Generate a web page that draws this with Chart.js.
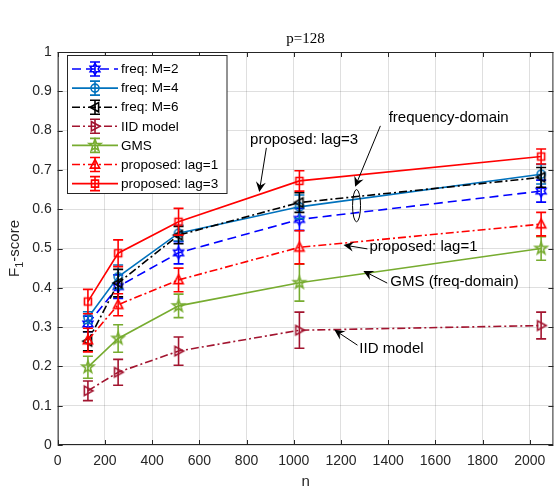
<!DOCTYPE html>
<html>
<head>
<meta charset="utf-8">
<script src="https://cdn.jsdelivr.net/npm/chart.js@4.4.1/dist/chart.umd.min.js"></script>
<style>
  html, body { margin: 0; padding: 0; background: #fff; }
  #wrap { width: 560px; height: 492px; position: relative; }
</style>
</head>
<body>
<div id="wrap"><canvas id="f1chart"></canvas></div>
<script>
// ─── Data ────────────────────────────────────────────────────────────────────

const nValues = [128, 256, 512, 1024, 2048];

const seriesNames = [
  'freq: M=2', 'freq: M=4', 'freq: M=6', 'IID model',
  'GMS', 'proposed: lag=1', 'proposed: lag=3',
];

const freqM2   = [0.308, 0.403, 0.489, 0.574, 0.646];
const freqM2Er = [0.020, 0.030, 0.028, 0.028, 0.028];
const freqM4   = [0.324, 0.428, 0.539, 0.606, 0.689];
const freqM4Er = [0.015, 0.030, 0.020, 0.030, 0.025];
const freqM6   = [0.264, 0.412, 0.534, 0.617, 0.681];
const freqM6Er = [0.024, 0.035, 0.022, 0.025, 0.025];
const iidModel = [0.138, 0.185, 0.239, 0.292, 0.304];
const iidEr    = [0.025, 0.033, 0.036, 0.046, 0.034];
const gms      = [0.198, 0.271, 0.354, 0.413, 0.500];
const gmsEr    = [0.028, 0.035, 0.030, 0.047, 0.030];
const lag1     = [0.267, 0.357, 0.420, 0.503, 0.562];
const lag1Er   = [0.030, 0.028, 0.030, 0.042, 0.030];
const lag3     = [0.365, 0.488, 0.568, 0.672, 0.734];
const lag3Er   = [0.031, 0.034, 0.034, 0.026, 0.019];

const xTickValues = [0, 200, 400, 600, 800, 1000, 1200, 1400, 1600, 1800, 2000];
const yTickValues = [0, 0.1, 0.2, 0.3, 0.4, 0.5, 0.6, 0.7, 0.8, 0.9, 1];
const yTickLabels = ['0', '0.1', '0.2', '0.3', '0.4', '0.5', '0.6', '0.7', '0.8', '0.9', '1'];

// text annotations, in data units
const notes = [
  { text: 'frequency-domain',  x: 1402, y: 0.832, from: [1367, 0.812], to: [1260, 0.657] },
  { text: 'proposed: lag=3',   x: 815,  y: 0.776, from: [884, 0.756],  to: [854, 0.644] },
  { text: 'proposed: lag=1',   x: 1321, y: 0.504, from: [1312, 0.499], to: [1211, 0.509] },
  { text: 'GMS (freq-domain)', x: 1409, y: 0.415, from: [1396, 0.412], to: [1295, 0.443] },
  { text: 'IID model',         x: 1278, y: 0.244, from: [1270, 0.254], to: [1172, 0.293] },
];

// ─── Styles ──────────────────────────────────────────────────────────────────

const DASH    = [9, 5];
const DASHDOT = [8, 3, 2, 3];
const LW = 1.6;

const styles = [
  { color: '#0000ff', dash: DASH,    marker: 'hexagram' },
  { color: '#0072bd', dash: [],      marker: 'circle' },
  { color: '#000000', dash: DASHDOT, marker: 'triLeft' },
  { color: '#a2142f', dash: DASHDOT, marker: 'triRight' },
  { color: '#77ac30', dash: [],      marker: 'pentagram' },
  { color: '#ff0000', dash: DASHDOT, marker: 'triUp' },
  { color: '#ff0000', dash: [],      marker: 'square' },
];

const seriesValues = [freqM2, freqM4, freqM6, iidModel, gms, lag1, lag3];
const seriesErrors = [freqM2Er, freqM4Er, freqM6Er, iidEr, gmsEr, lag1Er, lag3Er];

const AXIS_COLOR = '#262626';
const GRID_COLOR = 'rgba(38,38,38,0.15)';
const SANS = '"Liberation Sans", Arial, Helvetica, sans-serif';
const SERIF = '"Liberation Serif", "Times New Roman", serif';

// ─── Markers ─────────────────────────────────────────────────────────────────

function _starPath(ctx, x, y, points, rOut, rIn) {
  for (let k = 0; k < points * 2; k++) {
    const r = k % 2 === 0 ? rOut : rIn;
    const a = -Math.PI / 2 + k * Math.PI / points;
    const px = x + r * Math.cos(a), py = y + r * Math.sin(a);
    if (k === 0) ctx.moveTo(px, py); else ctx.lineTo(px, py);
  }
  ctx.closePath();
}

function drawMarker(ctx, shape, x, y, color) {
  ctx.save();
  ctx.setLineDash([]);
  ctx.strokeStyle = color;
  ctx.lineWidth = LW;
  ctx.lineJoin = 'miter';
  ctx.beginPath();
  switch (shape) {
    case 'square':   ctx.rect(x - 3.5, y - 3.5, 7, 7); break;
    case 'circle':   ctx.arc(x, y, 4, 0, Math.PI * 2); break;
    case 'triUp':
      ctx.moveTo(x, y - 5); ctx.lineTo(x + 4.6, y + 3.6); ctx.lineTo(x - 4.6, y + 3.6); ctx.closePath(); break;
    case 'triLeft':
      ctx.moveTo(x - 5, y); ctx.lineTo(x + 3.6, y - 4.6); ctx.lineTo(x + 3.6, y + 4.6); ctx.closePath(); break;
    case 'triRight':
      ctx.moveTo(x + 5, y); ctx.lineTo(x - 3.6, y - 4.6); ctx.lineTo(x - 3.6, y + 4.6); ctx.closePath(); break;
    case 'hexagram':  _starPath(ctx, x, y, 6, 5.6, 3.2); break;
    case 'pentagram': _starPath(ctx, x, y, 5, 6.2, 2.5); break;
  }
  ctx.stroke();
  ctx.restore();
}

function markerCanvas(shape, color) {
  const c = document.createElement('canvas');
  c.width = 18; c.height = 18;
  drawMarker(c.getContext('2d'), shape, 9, 9, color);
  return c;
}

function drawErrorBar(ctx, x, yTop, yBot, color) {
  ctx.save();
  ctx.setLineDash([]);
  ctx.strokeStyle = color;
  ctx.lineWidth = LW;
  ctx.beginPath();
  ctx.moveTo(x, yTop); ctx.lineTo(x, yBot);
  ctx.moveTo(x - 5, yTop); ctx.lineTo(x + 5, yTop);
  ctx.moveTo(x - 5, yBot); ctx.lineTo(x + 5, yBot);
  ctx.stroke();
  ctx.restore();
}

function drawArrow(ctx, x0, y0, x1, y1) {
  const ang = Math.atan2(y1 - y0, x1 - x0);
  const L = 10, W = 5;
  ctx.save();
  ctx.strokeStyle = '#000';
  ctx.fillStyle = '#000';
  ctx.lineWidth = 1;
  ctx.beginPath();
  ctx.moveTo(x0, y0);
  ctx.lineTo(x1 - Math.cos(ang) * L * 0.6, y1 - Math.sin(ang) * L * 0.6);
  ctx.stroke();
  ctx.translate(x1, y1);
  ctx.rotate(ang);
  ctx.beginPath();
  ctx.moveTo(0, 0);
  ctx.lineTo(-L, -W);
  ctx.lineTo(-L * 0.65, 0);
  ctx.lineTo(-L, W);
  ctx.closePath();
  ctx.fill();
  ctx.restore();
}

// ─── Plugins ─────────────────────────────────────────────────────────────────

const errorBarPlugin = {
  id: 'errorBars',
  afterDatasetDraw(chart, args) {
    const i = args.index;
    const ctx = chart.ctx;
    const xs = chart.scales.x, ys = chart.scales.y;
    const vals = seriesValues[i], errs = seriesErrors[i];
    ctx.save();
    const a = chart.chartArea;
    ctx.beginPath(); ctx.rect(a.left, a.top, a.right - a.left, a.bottom - a.top); ctx.clip();
    nValues.forEach((n, k) => {
      drawErrorBar(ctx, xs.getPixelForValue(n),
        ys.getPixelForValue(vals[k] + errs[k]),
        ys.getPixelForValue(vals[k] - errs[k]), styles[i].color);
    });
    ctx.restore();
  },
};

const framePlugin = {
  id: 'matlabFrame',
  beforeDatasetsDraw(chart) {
    const ctx = chart.ctx, a = chart.chartArea;
    const xs = chart.scales.x, ys = chart.scales.y;
    ctx.save();
    ctx.strokeStyle = AXIS_COLOR;
    ctx.lineWidth = 1;
    ctx.strokeRect(a.left + 0.5, a.top + 0.5, a.right - a.left - 1, a.bottom - a.top - 1);
    const T = 5;
    ctx.beginPath();
    xTickValues.forEach(v => {
      const px = Math.round(xs.getPixelForValue(v)) + 0.5;
      ctx.moveTo(px, a.bottom); ctx.lineTo(px, a.bottom - T);
      ctx.moveTo(px, a.top); ctx.lineTo(px, a.top + T);
    });
    yTickValues.forEach(v => {
      const py = Math.round(ys.getPixelForValue(v)) + 0.5;
      ctx.moveTo(a.left, py); ctx.lineTo(a.left + T, py);
      ctx.moveTo(a.right, py); ctx.lineTo(a.right - T, py);
    });
    ctx.stroke();
    ctx.restore();
  },
};

const labelsPlugin = {
  id: 'labelsAndNotes',
  afterDraw(chart) {
    const ctx = chart.ctx, a = chart.chartArea;
    const xs = chart.scales.x, ys = chart.scales.y;
    const cx = (a.left + a.right) / 2, cy = (a.top + a.bottom) / 2;
    ctx.save();

    // title
    ctx.fillStyle = '#000';
    ctx.font = `15px ${SERIF}`;
    ctx.textAlign = 'center';
    ctx.textBaseline = 'middle';
    ctx.fillText('p=128', cx, 39);

    // x label
    ctx.fillStyle = AXIS_COLOR;
    ctx.font = `15px ${SANS}`;
    ctx.fillText('n', cx, 482);

    // y label with subscript
    ctx.save();
    ctx.translate(15, cy);
    ctx.rotate(-Math.PI / 2);
    ctx.textAlign = 'left';
    ctx.font = `15px ${SANS}`;
    const wF = ctx.measureText('F').width;
    const wS = ctx.measureText('-score').width;
    ctx.font = `11px ${SANS}`;
    const w1 = ctx.measureText('1').width;
    let px = -(wF + w1 + wS) / 2;
    ctx.font = `15px ${SANS}`;
    ctx.fillText('F', px, 0);
    px += wF;
    ctx.font = `11px ${SANS}`;
    ctx.fillText('1', px, 5);
    px += w1;
    ctx.font = `15px ${SANS}`;
    ctx.fillText('-score', px, 0);
    ctx.restore();

    // annotations
    ctx.fillStyle = '#000';
    ctx.font = `15px ${SANS}`;
    ctx.textAlign = 'left';
    ctx.textBaseline = 'middle';
    notes.forEach(nt => {
      ctx.fillText(nt.text, xs.getPixelForValue(nt.x), ys.getPixelForValue(nt.y));
      drawArrow(ctx,
        xs.getPixelForValue(nt.from[0]), ys.getPixelForValue(nt.from[1]),
        xs.getPixelForValue(nt.to[0]), ys.getPixelForValue(nt.to[1]));
    });

    // ellipse around frequency-domain curves
    const ex = xs.getPixelForValue(1266), ey = ys.getPixelForValue(0.609);
    const ry = ys.getPixelForValue(0.609) - ys.getPixelForValue(0.650);
    ctx.beginPath();
    ctx.strokeStyle = '#000';
    ctx.lineWidth = 1;
    ctx.ellipse(ex, ey, 4, ry, 0, 0, Math.PI * 2);
    ctx.stroke();

    // legend box
    const lx = 67.5, ly = 55.5, lw = 159.5, lh = 138;
    ctx.fillStyle = '#fff';
    ctx.fillRect(lx, ly, lw, lh);
    ctx.strokeStyle = AXIS_COLOR;
    ctx.strokeRect(lx, ly, lw, lh);
    ctx.font = `13.5px ${SANS}`;
    ctx.textBaseline = 'middle';
    seriesNames.forEach((name, i) => {
      const y = 69 + i * 19.1;
      const st = styles[i];
      ctx.save();
      ctx.strokeStyle = st.color;
      ctx.lineWidth = LW;
      ctx.setLineDash(st.dash);
      ctx.beginPath();
      ctx.moveTo(72, y); ctx.lineTo(118, y);
      ctx.stroke();
      ctx.restore();
      drawErrorBar(ctx, 95, y - 7, y + 7, st.color);
      drawMarker(ctx, st.marker, 95, y, st.color);
      ctx.fillStyle = '#000';
      ctx.fillText(name, 121, y + 0.5);
    });

    ctx.restore();
  },
};

// ─── Chart ───────────────────────────────────────────────────────────────────

const datasets = seriesNames.map((name, i) => ({
  label: name,
  data: nValues.map((n, k) => ({ x: n, y: seriesValues[i][k] })),
  borderColor: styles[i].color,
  backgroundColor: styles[i].color,
  borderDash: styles[i].dash,
  borderWidth: LW,
  pointStyle: markerCanvas(styles[i].marker, styles[i].color),
  pointRadius: 5,
  tension: 0,
  fill: false,
  order: seriesNames.length - i,
}));

new Chart(document.getElementById('f1chart'), {
  type: 'line',
  data: { datasets },
  plugins: [framePlugin, errorBarPlugin, labelsPlugin],
  options: {
    responsive: true,
    maintainAspectRatio: false,
    animation: false,
    events: [],
    layout: { padding: { top: 52, right: 3.3, left: 0, bottom: 0 } },
    plugins: {
      legend: { display: false },
      tooltip: { enabled: false },
      title: { display: false },
    },
    scales: {
      x: {
        type: 'linear',
        min: 0,
        max: 2100,
        afterBuildTicks: (scale) => { scale.ticks = xTickValues.map(v => ({ value: v })); },
        afterFit: (scale) => { scale.height = 47; },
        ticks: {
          color: AXIS_COLOR,
          font: { family: SANS, size: 14 },
          padding: 8,
          maxRotation: 0,
          autoSkip: false,
          callback: (v) => String(v),
        },
        grid: { color: GRID_COLOR, drawTicks: false },
        border: { display: false },
      },
      y: {
        type: 'linear',
        min: 0,
        max: 1,
        afterBuildTicks: (scale) => { scale.ticks = yTickValues.map(v => ({ value: v })); },
        afterFit: (scale) => { scale.width = 57.7; },
        ticks: {
          color: AXIS_COLOR,
          font: { family: SANS, size: 14 },
          padding: 6,
          autoSkip: false,
          callback: (v, idx) => yTickLabels[idx],
        },
        grid: { color: GRID_COLOR, drawTicks: false },
        border: { display: false },
      },
    },
  },
});
</script>
</body>
</html>
